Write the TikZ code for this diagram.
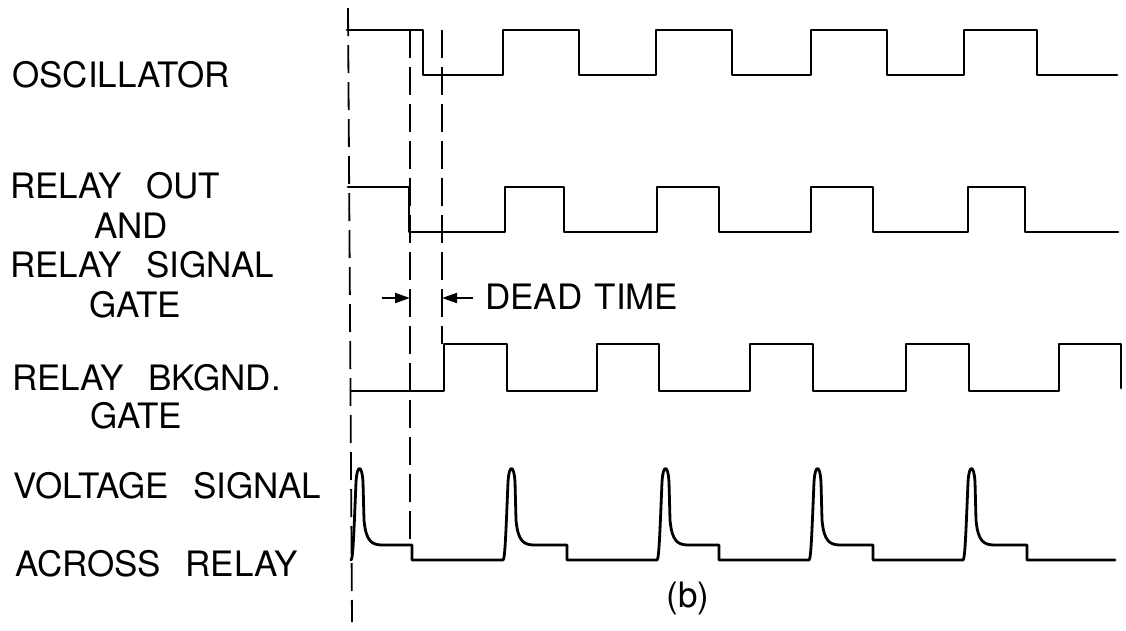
\documentclass[tikz,border=0pt]{standalone}
\usepackage{fontspec}
\setmainfont{TeX Gyre Heros}[WordSpace=2.5]
\usepackage{tikz}
\usetikzlibrary{arrows.meta,positioning}
\newcommand{\relayspike}[3]{\draw[wave] (#1,560) .. controls (#1+2,560) and (#1+3,530) .. (#1+5,482) .. controls (#1+6,464) and (#1+11,464) .. (#1+12,482)
  -- (#1+13,520) .. controls (#1+15,542) and (#1+21,545) .. (#1+32,545) -- (#2,545) |- (#3,560);}

\begin{document}
\begin{tikzpicture}[x=1pt,y=-1pt,font=\fontsize{35}{41}\selectfont,
  wave/.style={line width=2.8pt,line join=round,line cap=round},
  guide/.style={line width=1.8pt,dash pattern=on 28pt off 9pt},
  tip/.style={line width=2pt,-{Triangle[length=15pt,width=10pt]}},
  lbl/.style={inner sep=0pt,anchor=west}]
\useasboundingbox (0,0) rectangle (1126,630);
% signal names
\node[lbl] (osc) at (12,75) {OSCILLATOR};
\node[lbl] (out) at (10,186) {RELAY OUT};
\node[inner sep=0pt] (and) at (131,226) {AND};
\node[lbl] (sig) at (10,265) {RELAY SIGNAL};
\node[inner sep=0pt] (sgate) at (135,305) {GATE};
\node[lbl] (bkg) at (12,378) {RELAY BKGND.};
\node[inner sep=0pt] (bgate) at (136,416) {GATE};
\node[lbl] (volt) at (13,486) {VOLTAGE SIGNAL};
\node[lbl] (across) at (15,564) {ACROSS RELAY};
% waveforms
\draw[wave] (347,30) -| (423,75) -| (503,30) -| (579,75) -| (656,30) -| (732,75) -| (811,30) -| (887,75) -| (964,30) -| (1037,75) -- (1117,75);
\draw[wave] (348,187) -| (409,232) -| (505,187) -| (564,232) -| (657,187) -| (719,232) -| (811,187) -| (873,232) -| (968,187) -| (1025,232) -- (1118,232);
\draw[wave] (351,391) -| (444,344) -| (507,391) -| (597,344) -| (659,391) -| (750,344) -| (813,391) -| (906,344) -| (969,391) -| (1059,344) -| (1121,388);
\relayspike{351}{412}{503}\relayspike{503}{567}{657}\relayspike{657}{719}{809}
\relayspike{809}{873}{963}\relayspike{963}{1027}{1115}
% timing guides and dead time
\coordinate (d1top) at (348,8); \coordinate (d1bot) at (352,622);
\coordinate (d2top) at (410,30); \coordinate (d2bot) at (410,547);
\coordinate (d3top) at (442,30); \coordinate (d3bot) at (442,344);
\draw[guide] (d1top)--(d1bot); \draw[guide] (d2top)--(d2bot); \draw[guide] (d3top)--(d3bot);
\coordinate (tl) at (382,298); \coordinate (tr) at (473,298);
\draw[tip] (tl)--(tl -| d2top);
\draw[tip] (tr)--(tr -| d3top);
\node[lbl] (dead) at (485,297) {\spaceskip=.35em DEAD TIME};
\node[inner sep=0pt] (b) at (688,598) {(b)};
\end{tikzpicture}
\end{document}
